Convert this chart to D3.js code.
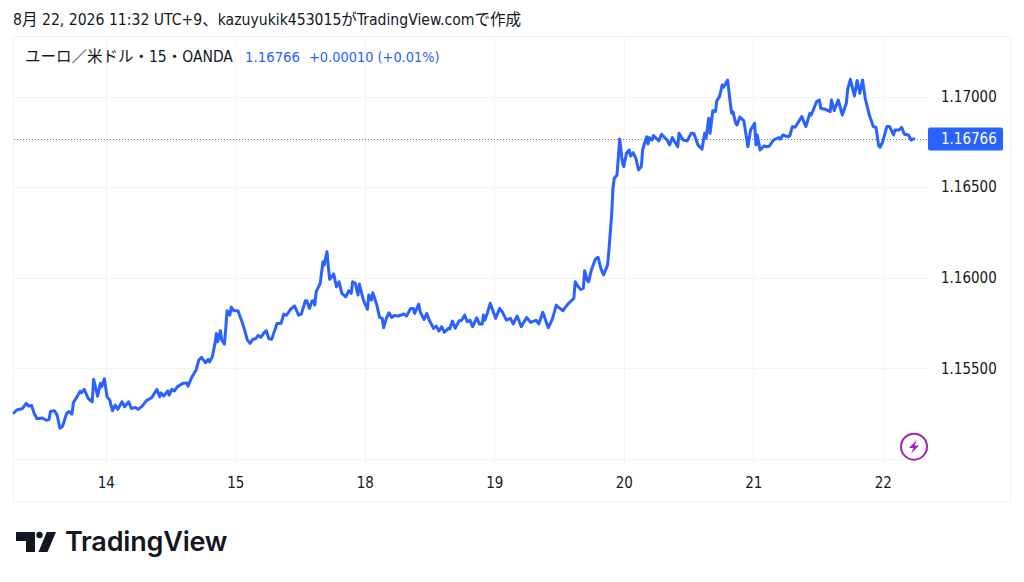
<!DOCTYPE html>
<html>
<head>
<meta charset="utf-8">
<script src="https://cdn.jsdelivr.net/npm/d3@7"></script>
<style>
  body { margin: 0; background: #fff; }
  text { font-family: "DejaVu Sans", "Noto Sans CJK JP", sans-serif; font-stretch: condensed; fill: #131722; }
</style>
</head>
<body>
<div id="chart"></div>
<script>
// 15 minute bars counted from the left edge of the chart
const bars = [
  0,2,6,9,11,13,15,17,21,24, 26,27,30,32,34,36,39,41,43,44,
  49,50,52,55,58,59,62,64,65,67, 69,71,73,75,77,80,82,85,87,90,
  92,95,98,102,106,108,109,111,114,115, 117,119,121,125,128,129,132,135,137,139,
  142,144,145,147,149,150,151,153,154,156, 158,160,161,163,166,169,171,173,175,177,
  179,181,183,185,187,189,191,195,198,200, 202,205,208,211,213,216,217,219,221,222,
  223,224,227,229,230,232,233,234,237,239, 241,243,246,248,250,251,253,255,256,259,
  262,263,265,266,269,271,273,274,276,278, 280,282,285,289,291,294,296,297,300,301,
  304,306,308,311,313,315,317,319,322,323, 325,327,330,332,334,336,338,340,343,345,
  347,348,349,351,353,357,360,362,365,368, 370,373,376,380,383,387,389,392,396,399,
  402,403,407,409,411,415,416,418,420,422, 423,425,426,428,431,433,435,437,440,441,
  443,444,445,447,449,451,452,454,456,457, 459,461,463,465,466,467,469,470,471,473,
  474,478,480,484,486,488,492,493,496,499, 502,504,507,510,512,513,515,516,518,520,
  521,523,525,526,529,531,532,533,535,536, 538,541,544,546,549,550,551,553,556,558,
  560,563,567,568,570,573,575,577,579,584, 587,590,591,595,597,598,601,605,606,608,
  611,614,617,618,620,623,625,627,629,631, 634,637,639,641,642,644,647,649,652,653,
  656,658,660,663,665,667
];
const prices = [
  1.15255,1.15270,1.15277,1.15307,1.15292,1.15296,1.15251,1.15222,1.15226,1.15214, 1.15218,1.15262,1.15266,1.15242,1.15170,1.15181,1.15251,1.15262,1.15248,1.15310,
  1.15373,1.15365,1.15384,1.15334,1.15316,1.15439,1.15347,1.15417,1.15398,1.15443, 1.15343,1.15325,1.15266,1.15297,1.15274,1.15316,1.15288,1.15316,1.15279,1.15285,
  1.15274,1.15292,1.15321,1.15338,1.15384,1.15343,1.15365,1.15347,1.15376,1.15353, 1.15384,1.15376,1.15398,1.15417,1.15420,1.15402,1.15454,1.15491,1.15546,1.15561,
  1.15531,1.15550,1.15536,1.15564,1.15638,1.15693,1.15647,1.15708,1.15656,1.15634, 1.15818,1.15794,1.15837,1.15818,1.15818,1.15757,1.15711,1.15656,1.15638,1.15660,
  1.15663,1.15682,1.15671,1.15693,1.15708,1.15663,1.15660,1.15748,1.15748,1.15800, 1.15793,1.15826,1.15844,1.15794,1.15800,1.15873,1.15873,1.15831,1.15873,1.15873,
  1.15849,1.15923,1.15969,1.16088,1.16070,1.16144,1.16061,1.15991,1.16021,1.15950, 1.15978,1.15914,1.15895,1.15928,1.15914,1.15978,1.15969,1.15905,1.15965,1.15877,
  1.15826,1.15905,1.15877,1.15917,1.15849,1.15781,1.15776,1.15724,1.15776,1.15807, 1.15781,1.15792,1.15789,1.15800,1.15789,1.15831,1.15830,1.15803,1.15855,1.15812,
  1.15770,1.15803,1.15763,1.15721,1.15733,1.15706,1.15730,1.15699,1.15721,1.15717, 1.15761,1.15721,1.15763,1.15766,1.15794,1.15757,1.15766,1.15730,1.15779,1.15745,
  1.15745,1.15794,1.15766,1.15807,1.15859,1.15776,1.15831,1.15812,1.15766,1.15776, 1.15745,1.15789,1.15730,1.15781,1.15754,1.15766,1.15745,1.15809,1.15724,1.15770,
  1.15849,1.15841,1.15818,1.15840,1.15858,1.15886,1.15978,1.15954,1.15936,1.15942, 1.16039,1.15984,1.15978,1.16043,1.16102,1.16113,1.16052,1.16015,1.16070,1.16153,
  1.16346,1.16495,1.16549,1.16567,1.16766,1.16635,1.16613,1.16687,1.16705,1.16672, 1.16690,1.16659,1.16595,1.16613,1.16705,1.16731,1.16778,1.16738,1.16773,1.16760,
  1.16784,1.16755,1.16792,1.16760,1.16733,1.16773,1.16723,1.16797,1.16760,1.16755, 1.16797,1.16796,1.16733,1.16709,1.16797,1.16770,1.16880,1.16797,1.16922,1.16916,
  1.16977,1.16999,1.17064,1.17051,1.17091,1.16963,1.16908,1.16915,1.16852,1.16843, 1.16886,1.16867,1.16723,1.16815,1.16852,1.16733,1.16788,1.16705,1.16727,1.16723,
  1.16727,1.16760,1.16773,1.16764,1.16788,1.16778,1.16782,1.16834,1.16830,1.16889, 1.16834,1.16908,1.16898,1.16972,1.16981,1.16935,1.16930,1.16917,1.16981,1.16922,
  1.16981,1.16898,1.16963,1.17040,1.17095,1.17003,1.17088,1.17018,1.17091,1.16990, 1.16898,1.16834,1.16829,1.16727,1.16720,1.16751,1.16834,1.16834,1.16788,1.16815,
  1.16815,1.16830,1.16792,1.16788,1.16760,1.16766
];

const dayBars = [68, 164, 260, 356, 452, 548, 644];
const dayLabels = ["14", "15", "18", "19", "20", "21", "22"];
const priceTicks = [1.155, 1.16, 1.165, 1.17];
const gridPrices = [1.15, 1.155, 1.16, 1.165, 1.17];
const lastPrice = 1.16766;

const blue = "#2962ff";
const gridColor = "#f3f4f7";
const frameColor = "#eff1f5";

const svg = d3.select("#chart")
    .append("svg")
    .attr("width", 1024)
    .attr("height", 582)
    .style("display", "block");

// Scales
const xScale = d3.scaleLinear().domain([0, 667]).range([14, 913.8]);
const yScale = d3.scaleLinear().domain([1.15, 1.17]).range([459, 96.5]);

// Snapshot title
svg.append("text")
    .attr("x", 13)
    .attr("y", 25)
    .style("font-size", "15.6px")
    .text("8月 22, 2026 11:32 UTC+9、kazuyukik453015がTradingView.comで作成");

// Frame
svg.append("rect")
    .attr("x", 13.5)
    .attr("y", 36.5)
    .attr("width", 997)
    .attr("height", 465)
    .attr("fill", "none")
    .attr("stroke", frameColor);

// Grid
svg.selectAll(".h-grid")
    .data(gridPrices)
    .enter()
    .append("line")
    .attr("class", "h-grid")
    .attr("x1", 14)
    .attr("x2", 928)
    .attr("y1", d => Math.round(yScale(d)) + 0.5)
    .attr("y2", d => Math.round(yScale(d)) + 0.5)
    .attr("stroke", gridColor);

svg.selectAll(".v-grid")
    .data(dayBars)
    .enter()
    .append("line")
    .attr("class", "v-grid")
    .attr("x1", d => Math.round(xScale(d)) + 0.5)
    .attr("x2", d => Math.round(xScale(d)) + 0.5)
    .attr("y1", 37)
    .attr("y2", 464)
    .attr("stroke", gridColor);

// Last price line
svg.append("line")
    .attr("x1", 14)
    .attr("x2", 928)
    .attr("y1", Math.round(yScale(lastPrice)) + 0.5)
    .attr("y2", Math.round(yScale(lastPrice)) + 0.5)
    .attr("stroke", "#5f7199")
    .attr("stroke-dasharray", "1,2");

// Price line
const line = d3.line()
    .x(d => xScale(d[0]))
    .y(d => yScale(d[1]));

svg.append("path")
    .datum(d3.zip(bars, prices))
    .attr("d", line)
    .attr("fill", "none")
    .attr("stroke", blue)
    .attr("stroke-width", 3)
    .attr("stroke-linejoin", "round")
    .attr("stroke-linecap", "round");

// Axes
const xAxis = svg.append("g")
    .attr("transform", "translate(0,459)")
    .call(d3.axisBottom(xScale)
        .tickValues(dayBars)
        .tickSize(0)
        .tickPadding(18)
        .tickFormat((d, i) => dayLabels[i]));
xAxis.select(".domain").remove();
xAxis.selectAll("text")
    .style("font-size", "15px")
    .style("font-family", "DejaVu Sans");

const yAxis = svg.append("g")
    .attr("transform", "translate(928,0)")
    .call(d3.axisRight(yScale)
        .tickValues(priceTicks)
        .tickSize(0)
        .tickPadding(13)
        .tickFormat(d3.format(".5f")));
yAxis.select(".domain").remove();
yAxis.selectAll("text")
    .style("font-size", "15px")
    .style("font-family", "DejaVu Sans");

// Last price tag
svg.append("rect")
    .attr("x", 928)
    .attr("y", yScale(lastPrice) - 11.5)
    .attr("width", 75)
    .attr("height", 23)
    .attr("rx", 2)
    .attr("fill", blue);

svg.append("text")
    .attr("x", 941)
    .attr("y", yScale(lastPrice) + 5)
    .style("font-size", "15px")
    .style("fill", "#fff")
    .text(d3.format(".5f")(lastPrice));

// Legend
svg.append("text")
    .attr("x", 25)
    .attr("y", 62)
    .style("font-size", "15.5px")
    .text("ユーロ／米ドル・15・OANDA");

svg.append("text")
    .attr("x", 245)
    .attr("y", 62)
    .style("font-size", "14.8px")
    .style("fill", blue)
    .text("1.16766");

svg.append("text")
    .attr("x", 309)
    .attr("y", 62)
    .style("font-size", "14.4px")
    .style("fill", blue)
    .text("+0.00010 (+0.01%)");

// Lightning badge
const badge = svg.append("g").attr("transform", "translate(914,446.7)");
badge.append("circle")
    .attr("r", 13)
    .attr("fill", "#fff")
    .attr("stroke", "#9c27b0")
    .attr("stroke-width", 2);
badge.append("path")
    .attr("d", "M3,-7 L-5,1.2 L-0.5,1.2 L-3,7 L5,-1.2 L0.5,-1.2 Z")
    .attr("fill", "#9c27b0");

// TradingView logo
const logo = svg.append("g").attr("fill", "#131722");
logo.append("path").attr("d", "M16,532 H35 V552 H26 V541 H16 Z");
logo.append("circle").attr("cx", 39.5).attr("cy", 535).attr("r", 3.2);
logo.append("path").attr("d", "M46.7,532 H56 L47.5,552 H38.5 Z");

svg.append("text")
    .attr("x", 65)
    .attr("y", 551)
    .style("font-family", "Inter")
    .style("font-stretch", "normal")
    .style("font-size", "27px")
    .style("font-weight", "600")
    .style("letter-spacing", "-0.2px")
    .text("TradingView");
</script>
</body>
</html>
